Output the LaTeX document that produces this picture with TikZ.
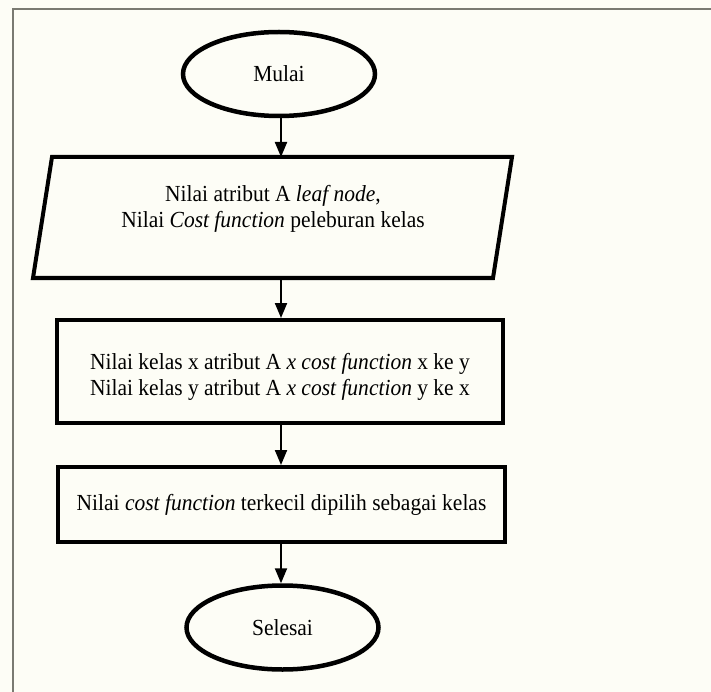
\documentclass[tikz,border=0pt]{standalone}
\usepackage{fontspec}
\setmainfont{Liberation Serif}[FakeStretch=0.935]
\usetikzlibrary{shapes.geometric,arrows.meta}
\definecolor{paper}{RGB}{253,253,246}
\definecolor{framegray}{RGB}{122,122,114}
\tikzset{
  labelfont/.style={font=\fontsize{23}{26}\selectfont},
  terminal/.style={ellipse,draw=black,line width=4.5pt,fill=paper,
    minimum width=192pt,minimum height=84pt,inner sep=0pt,labelfont},
  process/.style={rectangle,draw=black,line width=4pt,fill=paper,
    align=center,inner sep=0pt,labelfont},
  iobox/.style={draw=black,line width=4pt,fill=paper,line join=miter},
  boxtext/.style={align=center,inner sep=0pt,labelfont},
  flow/.style={line width=2pt,-{Triangle[length=15pt,width=12pt]}},
}
\begin{document}
\begin{tikzpicture}[x=1pt,y=-1pt]
  % page and outer frame
  \fill[paper] (0,0) rectangle (711,692);
  \useasboundingbox (0,0) rectangle (711,692);
  \draw[framegray,line width=2pt] (13,692) -- (13,9) -- (711,9);

  % start
  \node[terminal] (mulai) at (279,74) {Mulai};

  % input parallelogram
  \draw[iobox] (52,157) -- (512,157) -- (493,278) -- (33,278) -- cycle;
  \coordinate (intop) at (281,157);
  \coordinate (inbot) at (281,278);
  \node[boxtext] (input) at (273,209)
    {Nilai atribut A \textit{leaf node},\\Nilai \textit{Cost function} peleburan kelas};

  % process steps
  \node[process,minimum width=446pt,minimum height=103pt] (hitung) at (280,371.5) {};
  \node[boxtext] (hitungtext) at ([yshift=-5pt]hitung.center)
    {Nilai kelas x atribut A \textit{x cost function} x ke y\\
     Nilai kelas y atribut A \textit{x cost function} y ke x};
  \node[process,minimum width=447pt,minimum height=75pt] (pilih) at (281.5,504.5)
    {Nilai \textit{cost function} terkecil dipilih sebagai kelas};

  % end
  \node[terminal] (selesai) at (282.5,627.5) {Selesai};

  % connectors
  \draw[flow] (mulai.south -| intop) -- (intop);
  \draw[flow] (inbot) -- (inbot |- hitung.north);
  \draw[flow] (hitung.south -| inbot) -- (inbot |- pilih.north);
  \draw[flow] (pilih.south -| inbot) -- (inbot |- selesai.north);
\end{tikzpicture}
\end{document}
